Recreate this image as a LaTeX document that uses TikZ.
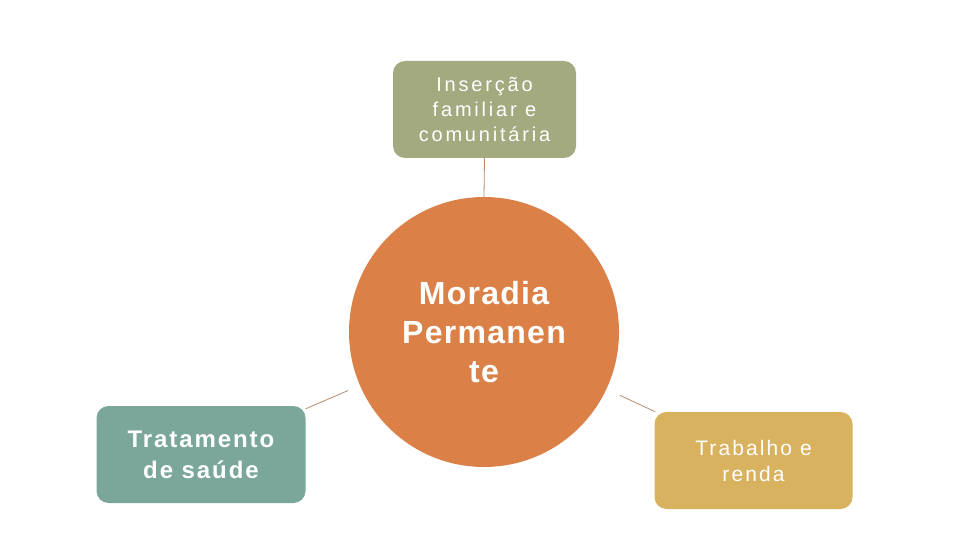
\documentclass[tikz,border=0pt]{standalone}
\usepackage{fontspec}
\setmainfont{Liberation Sans}
\definecolor{topc}{HTML}{A3AA80}
\definecolor{leftc}{HTML}{7BA79B}
\definecolor{rightc}{HTML}{D9B260}
\definecolor{circc}{HTML}{DB8047}
\definecolor{linec}{HTML}{B98A6A}
\begin{document}
\begin{tikzpicture}[x=1pt,y=-1pt,
  boxst/.style={rectangle, rounded corners=12pt, inner sep=0pt, align=center, text=white},
  conn/.style={draw=linec, line width=0.8pt}]
\useasboundingbox (0,0) rectangle (960,540);
\node[circle, fill=circc, minimum size=270pt, inner sep=0pt, align=center, text=white,
  font=\fontsize{32}{39}\selectfont\bfseries\addfontfeatures{LetterSpace=4}]
  (C) at (484,332) {Moradia\\Permanen\\te};
\node[boxst, fill=topc, minimum width=183pt, minimum height=97pt,
  font=\fontsize{20}{25}\selectfont\addfontfeatures{LetterSpace=14}]
  (T) at (484.5,109.5) {Inserção\\familiar e\\comunitária};
\node[boxst, fill=leftc, minimum width=209pt, minimum height=97pt,
  font=\fontsize{24}{31}\selectfont\bfseries\addfontfeatures{LetterSpace=8}]
  (L) at (201,454.5) {Tratamento\\de saúde};
\node[boxst, fill=rightc, minimum width=198pt, minimum height=97pt,
  font=\fontsize{21}{26}\selectfont\addfontfeatures{LetterSpace=10}]
  (R) at (753.5,460.5) {Trabalho e\\renda};
\draw[conn] (T.south) -- (C.north);
\draw[conn, shorten >=148pt] ([yshift=-3pt]L.north east) -- (C.center);
\draw[conn, shorten <=150pt] (C.center) -- ([xshift=1pt]R.north west);
\end{tikzpicture}
\end{document}
